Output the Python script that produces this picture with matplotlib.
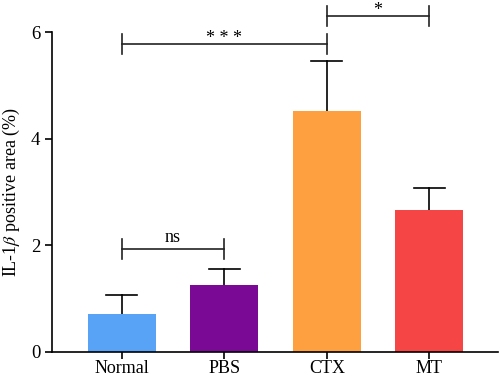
import numpy as np
import matplotlib.pyplot as plt

plt.rcParams['font.family'] = ['Liberation Serif', 'DejaVu Serif']
plt.rcParams['mathtext.fontset'] = 'stix'

groups = ['Normal', 'PBS', 'CTX', 'MT']
means = [0.71, 1.25, 4.52, 2.65]
errs = [0.36, 0.30, 0.94, 0.43]
colors = ['#59a3f7', '#7a0a96', '#ffa040', '#f64545']

# significance brackets: (left group, right group, height, label)
brackets = [(0, 1, 1.93, 'ns'), (0, 2, 5.78, '* * *'), (2, 3, 6.3, '*')]

fig = plt.figure(figsize=(5, 3.78), dpi=100)
ax = fig.add_axes([0.104, 0.07, 0.892, 0.845])

x = np.arange(len(groups))
ax.bar(x, means, width=0.66, color=colors, zorder=2)

# upper-only error bars
cap = 0.15
for xi, m, e in zip(x, means, errs):
    ax.plot([xi, xi], [m, m + e], color='black', lw=1.2, zorder=1)
    ax.plot([xi - cap, xi + cap], [m + e, m + e], color='black', lw=1.2, zorder=1)

for a, b, h, lab in brackets:
    ax.plot([a, b], [h, h], color='#222222', lw=1.2, clip_on=False)
    for xx in (a, b):
        ax.plot([xx, xx], [h - 0.19, h + 0.19], color='#222222', lw=1.2, clip_on=False)
    off = 0.12 if lab == 'ns' else 0.02
    ax.text((a + b) / 2, h + off, lab, ha='center', va='baseline', fontsize=13)

ax.set_xlim(-0.68, 3.67)
ax.set_ylim(0, 6)
ax.set_yticks([0, 2, 4, 6])
ax.set_xticks(x)
ax.set_xticklabels(groups)
ax.set_ylabel(r'IL-1$\beta$ positive area (%)', fontsize=13, labelpad=6)
ax.tick_params(labelsize=13.5, width=1.2, length=5)
ax.tick_params(axis='x', labelsize=13, pad=1)
for s in ['top', 'right']:
    ax.spines[s].set_visible(False)
for s in ['left', 'bottom']:
    ax.spines[s].set_linewidth(1.2)

plt.savefig('out.png')
